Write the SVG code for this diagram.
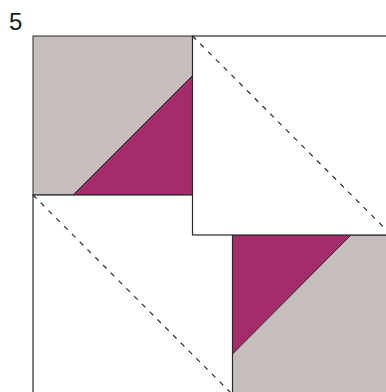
<svg xmlns="http://www.w3.org/2000/svg" width="386" height="392" viewBox="0 0 386 392">
<style>
.gray{fill:#c6bebc;stroke:#2a2a2a;stroke-width:1}
.mag{fill:#a42c6b;stroke:#2a2a2a;stroke-width:1}
.white{fill:#ffffff;stroke:#2a2a2a;stroke-width:1.2}
.dash{fill:none;stroke:#2a2a2a;stroke-width:1.2;stroke-dasharray:5 6}
.label{font-family:"Liberation Sans",Arial,sans-serif;font-size:24px;fill:#1a1a1a}
</style>
<rect width="386" height="392" fill="#ffffff"/>
<text class="label" x="9" y="30">5</text>
<g id="block-top-left">
<rect class="gray" x="33" y="36" width="160" height="159"/>
<polygon class="mag" points="73,195 193,75 193,195"/>
</g>
<g id="block-bottom-right">
<rect class="gray" x="232.5" y="235" width="160" height="160"/>
<polygon class="mag" points="232.5,235 351,235 232.5,354"/>
</g>
<g id="square-bottom-left">
<rect class="white" x="33" y="195" width="199.5" height="200"/>
<line class="dash" x1="33" y1="195" x2="232.5" y2="394.5"/>
</g>
<g id="square-top-right">
<rect class="white" x="192.5" y="36" width="200" height="199"/>
<line class="dash" x1="192.5" y1="36" x2="391.5" y2="235"/>
</g>
</svg>
